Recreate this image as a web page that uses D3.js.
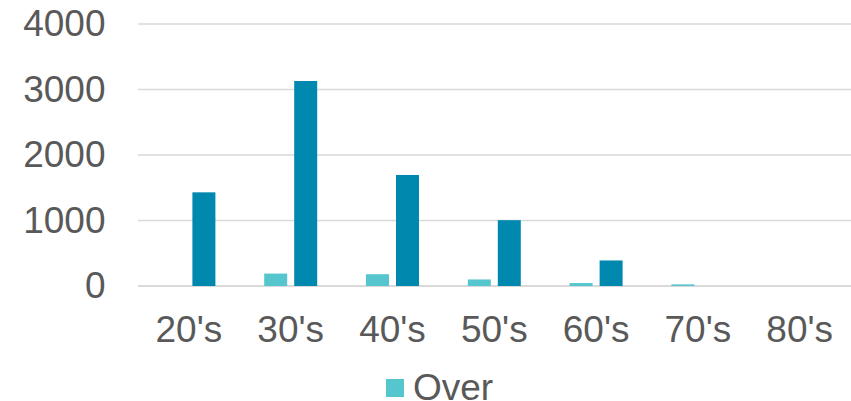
<!DOCTYPE html>
<html>
<head>
<meta charset="utf-8">
<script src="https://cdn.jsdelivr.net/npm/d3@7"></script>
<style>
  html, body { margin: 0; padding: 0; background: #fff; }
  svg { display: block; }
  text { font-family: "Liberation Sans", Arial, sans-serif; fill: #595959; }
</style>
</head>
<body>
<svg id="chart" width="851" height="401"></svg>
<script>
// Age groups along the x axis
const categories = ["20's", "30's", "40's", "50's", "60's", "70's", "80's"];
// Series values per age group
const overValues  = [0, 190, 180, 100, 45, 25, 0];
const underValues = [1430, 3130, 1695, 1005, 390, 0, 0];
const seriesNames = ["Over", "Under"];
const seriesColors = ["#55C6CE", "#0188AE"];
// Value axis ticks
const yTicks = [0, 1000, 2000, 3000, 4000];

const svg = d3.select("#chart");

const plot = { left: 138, right: 851, top: 24, bottom: 286 };

const x0 = d3.scaleBand()
  .domain(categories)
  .range([plot.left, plot.left + 7 * 101.8])
  .paddingInner(0)
  .paddingOuter(0);

const groupWidth = 53;
const x1 = d3.scaleBand()
  .domain(seriesNames)
  .range([0, groupWidth])
  .paddingInner(7 / 30);

const y = d3.scaleLinear()
  .domain([0, 4000])
  .range([plot.bottom, plot.top]);

// Horizontal gridlines
svg.append("g")
  .selectAll("line")
  .data(yTicks)
  .join("line")
  .attr("x1", plot.left)
  .attr("x2", plot.right)
  .attr("y1", d => y(d))
  .attr("y2", d => y(d))
  .attr("stroke", "#D9D9D9")
  .attr("stroke-width", d => d === 0 ? 2 : 1.5);

// Value axis labels
const yAxis = d3.axisLeft(y).tickValues(yTicks).tickFormat(d3.format("d")).tickSize(0).tickPadding(0);
const gy = svg.append("g")
  .attr("transform", `translate(105.5,0)`)
  .call(yAxis);
gy.select(".domain").remove();
gy.selectAll("text")
  .attr("font-size", 37)
  .attr("fill", "#595959")
  .attr("font-family", "Liberation Sans, Arial, sans-serif");

// Bars
const rows = categories.map((c, i) => ({ cat: c, vals: [overValues[i], underValues[i]] }));
const groups = svg.append("g")
  .selectAll("g")
  .data(rows)
  .join("g")
  .attr("transform", d => `translate(${x0(d.cat) + x0.bandwidth() / 2 - groupWidth / 2},0)`);

groups.selectAll("rect")
  .data(d => d.vals.map((v, j) => ({ name: seriesNames[j], value: v, color: seriesColors[j] })))
  .join("rect")
  .attr("x", d => x1(d.name))
  .attr("width", x1.bandwidth())
  .attr("y", d => y(d.value))
  .attr("height", d => y(0) - y(d.value))
  .attr("fill", d => d.color);

// Category axis labels
const xAxis = d3.axisBottom(x0).tickSize(0).tickPadding(0);
const gx = svg.append("g")
  .attr("transform", `translate(0,${plot.bottom})`)
  .call(xAxis);
gx.select(".domain").remove();
gx.selectAll("text")
  .attr("dy", null)
  .attr("y", 56)
  .attr("font-size", 37)
  .attr("fill", "#595959")
  .attr("font-family", "Liberation Sans, Arial, sans-serif");

// Legend
const legend = svg.append("g").attr("transform", "translate(386,379)");
legend.append("rect")
  .attr("width", 18).attr("height", 18)
  .attr("fill", seriesColors[0]);
legend.append("text")
  .attr("x", 27).attr("y", 21)
  .attr("font-size", 37)
  .text(seriesNames[0]);
</script>
</body>
</html>
